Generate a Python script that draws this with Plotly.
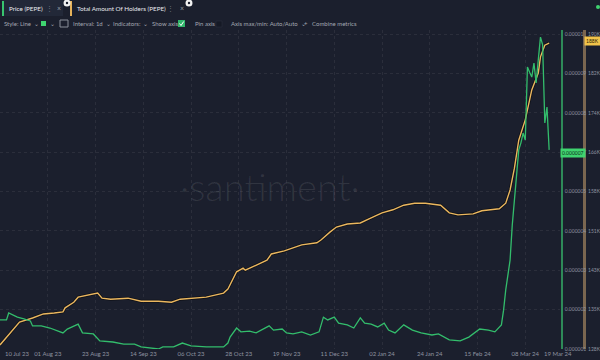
import plotly.graph_objects as go

# ---------------- data ----------------
holder_dates = [
    "2023-07-10", "2023-07-19", "2023-07-25", "2023-07-30", "2023-08-04", "2023-08-08",
    "2023-08-09", "2023-08-11", "2023-08-13", "2023-08-15", "2023-08-19", "2023-08-24",
    "2023-08-26", "2023-08-30", "2023-09-07", "2023-09-13", "2023-09-21", "2023-09-27",
    "2023-10-01", "2023-10-06", "2023-10-13", "2023-10-21", "2023-10-23", "2023-10-27",
    "2023-10-30", "2023-10-31", "2023-11-05", "2023-11-10", "2023-11-12", "2023-11-18",
    "2023-11-22", "2023-11-26", "2023-12-03", "2023-12-05", "2023-12-09", "2023-12-12",
    "2023-12-17", "2023-12-23", "2023-12-27", "2023-12-31", "2024-01-02", "2024-01-07",
    "2024-01-12", "2024-01-17", "2024-01-22", "2024-01-29", "2024-02-02", "2024-02-06",
    "2024-02-13", "2024-02-17", "2024-02-25", "2024-02-28", "2024-03-01", "2024-03-03",
    "2024-03-05", "2024-03-08", "2024-03-09", "2024-03-11", "2024-03-14", "2024-03-15",
    "2024-03-17", "2024-03-19",
]
holders = [
    128800, 133300, 134100, 134900, 135100, 135300,
    136100, 136700, 137200, 138200, 138600, 139000,
    138000, 137800, 138000, 137400, 137400, 137200,
    137800, 138000, 138200, 139000, 139800, 143200,
    143900, 143500, 144500, 145500, 146700, 147300,
    147900, 148500, 148900, 149500, 151000, 152000,
    152600, 152800, 153600, 154400, 154800, 155400,
    156300, 156700, 156700, 156300, 154800, 154400,
    154600, 155200, 155600, 156700, 159300, 163600,
    169100, 173100, 175000, 179000, 182300, 185500,
    187800, 188200,
]

price_dates = [
    "2023-07-10", "2023-07-13", "2023-07-14", "2023-07-18", "2023-07-21", "2023-07-24",
    "2023-07-25", "2023-07-29", "2023-08-02", "2023-08-08", "2023-08-10", "2023-08-15",
    "2023-08-17", "2023-08-22", "2023-08-25", "2023-08-31", "2023-09-05", "2023-09-10",
    "2023-09-13", "2023-09-21", "2023-09-23", "2023-09-28", "2023-10-02", "2023-10-06",
    "2023-10-13", "2023-10-21", "2023-10-23", "2023-10-24", "2023-10-27", "2023-10-29",
    "2023-11-02", "2023-11-05", "2023-11-11", "2023-11-13", "2023-11-17", "2023-11-19",
    "2023-11-22", "2023-11-26", "2023-11-30", "2023-12-04", "2023-12-06", "2023-12-08",
    "2023-12-11", "2023-12-13", "2023-12-17", "2023-12-20", "2023-12-23", "2023-12-25",
    "2023-12-28", "2023-12-31", "2024-01-03", "2024-01-05", "2024-01-08", "2024-01-12",
    "2024-01-16", "2024-01-20", "2024-01-25", "2024-01-28", "2024-02-02", "2024-02-07",
    "2024-02-11", "2024-02-16", "2024-02-20", "2024-02-23", "2024-02-26", "2024-02-27",
    "2024-02-28", "2024-02-29", "2024-03-01", "2024-03-02", "2024-03-03", "2024-03-04",
    "2024-03-05", "2024-03-06", "2024-03-07", "2024-03-08", "2024-03-09", "2024-03-10",
    "2024-03-11", "2024-03-12", "2024-03-13", "2024-03-14", "2024-03-15", "2024-03-16",
    "2024-03-17", "2024-03-18", "2024-03-19",
]
price = [
    1.83e-6, 1.83e-6, 2.03e-6, 1.91e-6, 1.86e-6, 1.80e-6,
    1.66e-6, 1.66e-6, 1.60e-6, 1.46e-6, 1.57e-6, 1.71e-6,
    1.46e-6, 1.43e-6, 1.23e-6, 1.20e-6, 1.14e-6, 1.14e-6,
    1.06e-6, 1.00e-6, 1.06e-6, 1.06e-6, 1.17e-6, 1.09e-6,
    1.06e-6, 1.06e-6, 1.17e-6, 1.34e-6, 1.60e-6, 1.49e-6,
    1.51e-6, 1.46e-6, 1.66e-6, 1.54e-6, 1.57e-6, 1.46e-6,
    1.43e-6, 1.49e-6, 1.40e-6, 1.49e-6, 1.91e-6, 1.83e-6,
    1.91e-6, 1.74e-6, 1.69e-6, 1.60e-6, 1.89e-6, 1.74e-6,
    1.71e-6, 1.63e-6, 1.74e-6, 1.54e-6, 1.46e-6, 1.69e-6,
    1.54e-6, 1.46e-6, 1.40e-6, 1.43e-6, 1.26e-6, 1.23e-6,
    1.34e-6, 1.57e-6, 1.54e-6, 1.49e-6, 1.69e-6, 2.11e-6,
    2.69e-6, 3.17e-6, 3.54e-6, 4.54e-6, 5.26e-6, 6.11e-6,
    6.69e-6, 6.89e-6, 7.17e-6, 6.97e-6, 9.06e-6, 8.91e-6,
    8.77e-6, 9.17e-6, 8.60e-6, 9.26e-6, 9.91e-6, 9.69e-6,
    7.46e-6, 7.91e-6, 6.69e-6,
]

x_tick_dates = ["2023-08-01", "2023-08-23", "2023-09-14", "2023-10-06", "2023-10-28",
                "2023-11-19", "2023-12-11", "2024-01-02", "2024-01-24", "2024-02-15",
                "2024-03-08"]
x_tick_labels = ["01 Aug 23", "23 Aug 23", "14 Sep 23", "06 Oct 23", "28 Oct 23",
                 "19 Nov 23", "11 Dec 23", "02 Jan 24", "24 Jan 24", "15 Feb 24",
                 "08 Mar 24"]
first_label = "10 Jul 23"
last_label = "19 Mar 24"

price_ticks = [1e-6, 2.125e-6, 3.25e-6, 4.375e-6, 5.5e-6, 6.625e-6, 7.75e-6, 8.875e-6, 1e-5]
price_tick_labels = ["0.000001", "0.000002", "0.000003", "0.000004", "0.000005",
                     "0.000007", "0.000008", "0.000009", "0.00001"]
holder_ticks = [128000, 135750, 143500, 151250, 159000, 166750, 174500, 182250, 190000]
holder_tick_labels = ["128K", "135K", "143K", "151K", "158K", "166K", "174K", "182K", "190K"]

price_current_label = "0.000007"
holders_current_label = "188K"

# ---------------- styling ----------------
BG = "#1b1f2d"
GREEN = "#33bd6c"
YELLOW = "#ebb75f"
TAN = "#7a6650"
GRID = "rgba(255,255,255,0.07)"
LABEL = "#8e93a0"
FONT = "Lato"

W, H = 600, 360
TOP, BOTTOM = 30, 349


def px(x):
    return x / W


def py(y):
    return (BOTTOM - y) / (BOTTOM - TOP)


fig = go.Figure()

fig.add_trace(go.Scatter(
    x=price_dates, y=price, yaxis="y2", mode="lines",
    line=dict(color=GREEN, width=1.3), hoverinfo="skip", showlegend=False))
fig.add_trace(go.Scatter(
    x=holder_dates, y=holders, yaxis="y", mode="lines",
    line=dict(color="rgba(0,0,0,0.45)", width=3), hoverinfo="skip", showlegend=False))
fig.add_trace(go.Scatter(
    x=holder_dates, y=holders, yaxis="y", mode="lines",
    line=dict(color=YELLOW, width=1.4), hoverinfo="skip", showlegend=False))

h_per_px = (190000 - 128000) / 315.0
p_per_px = (1e-5 - 1e-6) / 315.0
extra_top = 349 - 315 - TOP  # pixels above the top tick

fig.update_layout(
    width=W, height=H,
    margin=dict(l=0, r=0, t=TOP, b=H - BOTTOM, autoexpand=False),
    paper_bgcolor=BG, plot_bgcolor=BG,
    font=dict(family=FONT, color=LABEL, size=6),
    xaxis=dict(
        domain=[0, 560 / W], automargin=False,
        range=["2023-07-10", "2024-03-24"],
        tickvals=x_tick_dates, ticktext=x_tick_labels,
        showgrid=True, gridcolor=GRID, griddash="dot", gridwidth=1,
        zeroline=False, showline=False, ticks="",
        tickfont=dict(size=6, color=LABEL), ticklabelstandoff=0,
    ),
    yaxis=dict(
        range=[128000, 190000 + extra_top * h_per_px], automargin=False,
        anchor="free", position=584 / W, side="right",
        tickvals=holder_ticks, ticktext=holder_tick_labels,
        showgrid=True, gridcolor=GRID, griddash="dot",
        zeroline=False, showline=True, linecolor=TAN, linewidth=3,
        ticks="", tickfont=dict(size=5, color=LABEL), ticklabelstandoff=1,
    ),
    yaxis2=dict(
        range=[1e-6, 1e-5 + extra_top * p_per_px], automargin=False,
        overlaying="y", anchor="free", position=562 / W, side="right",
        tickvals=price_ticks, ticktext=price_tick_labels,
        showgrid=False, zeroline=False, showline=True, linecolor="#2e8a58", linewidth=1.5,
        ticks="", tickfont=dict(size=5, color=LABEL), ticklabelstandoff=1,
    ),
)

ann = []
shapes = []


def label(text, x, y, size=6, color=LABEL, xanchor="left", **kw):
    ann.append(dict(text=text, x=px(x), y=py(y), xref="paper", yref="paper",
                    xanchor=xanchor, yanchor="middle", showarrow=False,
                    font=dict(size=size, color=color, family=kw.pop("family", FONT),
                              weight=kw.pop("weight", "normal")), **kw))


# x-axis edge labels
label(first_label, 3, 353)
label(last_label, 558, 353, xanchor="center")

# current value badges
label(price_current_label, 573, 153, size=5, color="#10301c", xanchor="center",
      bgcolor="#3fd36f", borderpad=1)
label(holders_current_label, 592, 41, size=5, color="#2a1e05", xanchor="center",
      bgcolor="#f1c34a", borderpad=1)

# watermark
label("·santiment·", 270, 186, size=38, color="rgba(255,255,255,0.09)",
      xanchor="center", weight=300)

# header tabs
shapes.append(dict(type="rect", xref="paper", yref="paper", x0=px(2), x1=px(63),
                   y0=py(16), y1=py(0), fillcolor="#222838", line=dict(width=0), layer="above"))
shapes.append(dict(type="rect", xref="paper", yref="paper", x0=px(2), x1=px(4),
                   y0=py(16), y1=py(1), fillcolor="#38c56f", line=dict(width=0), layer="above"))
shapes.append(dict(type="rect", xref="paper", yref="paper", x0=px(70), x1=px(72),
                   y0=py(16), y1=py(1), fillcolor="#e6b25a", line=dict(width=0), layer="above"))
label("Price (PEPE)", 7, 8, size=6.3, color="#e8eaee")
label("⋮", 49, 8, size=7, color="#6d7280", xanchor="center")
label("×", 59, 8, size=7, color="#9aa0aa", xanchor="center")
label("Total Amount Of Holders (PEPE)", 75, 8, size=6.3, color="#e8eaee")
label("⋮", 171, 8, size=7, color="#6d7280", xanchor="center")
label("×", 182, 8, size=7, color="#9aa0aa", xanchor="center")
for cx in (67, 189):
    shapes.append(dict(type="circle", xref="paper", yref="paper",
                       x0=px(cx - 3.5), x1=px(cx + 3.5), y0=py(6.5), y1=py(-0.5),
                       fillcolor="#f2f2f2", line=dict(width=0), layer="above"))
    shapes.append(dict(type="circle", xref="paper", yref="paper",
                       x0=px(cx - 1.2), x1=px(cx + 1.2), y0=py(4.2), y1=py(1.8),
                       fillcolor="#1b1f2d", line=dict(width=0), layer="above"))
shapes.append(dict(type="circle", xref="paper", yref="paper",
                   x0=px(596), x1=px(600), y0=py(9), y1=py(5),
                   fillcolor="#3fd36f", line=dict(width=0), layer="above"))

# toolbar
tb = [
    ("Style: Line  ⌄", 2), ("⌄", 48), ("Interval: 1d  ⌄", 71), ("Indicators:  ⌄", 111),
    ("Show axis", 150), ("Pin axis", 193), ("Axis max/min: Auto/Auto  ⌄", 229),
    ("+   Combine metrics", 302),
]
for t, x in tb:
    label(t, x, 23.5, size=6, color="#a3a7b1")
shapes.append(dict(type="rect", xref="paper", yref="paper", x0=px(41), x1=px(46),
                   y0=py(26), y1=py(21), fillcolor="#3fd36f", line=dict(width=0), layer="above"))
shapes.append(dict(type="rect", xref="paper", yref="paper", x0=px(60), x1=px(68),
                   y0=py(27), y1=py(20), fillcolor="rgba(0,0,0,0)",
                   line=dict(width=1, color="#8a8f9a"), layer="above"))
shapes.append(dict(type="rect", xref="paper", yref="paper", x0=px(178), x1=px(185),
                   y0=py(27), y1=py(20), fillcolor="#2fb56a", line=dict(width=0), layer="above"))
shapes.append(dict(type="path", xref="paper", yref="paper",
                   path=f"M {px(179.5)},{py(23.5)} L {px(181)},{py(25.5)} L {px(183.7)},{py(21.5)}",
                   line=dict(width=1, color="#ffffff"), layer="above"))
shapes.append(dict(type="rect", xref="paper", yref="paper", x0=px(216), x1=px(222),
                   y0=py(27), y1=py(21), fillcolor="#151925",
                   line=dict(width=0.5, color="#2c3242"), layer="above"))

fig.update_layout(annotations=ann, shapes=shapes)

fig.write_html("out.html", config={"displayModeBar": False},
               post_script="document.body.style.margin='0';document.body.style.overflow='hidden';")
